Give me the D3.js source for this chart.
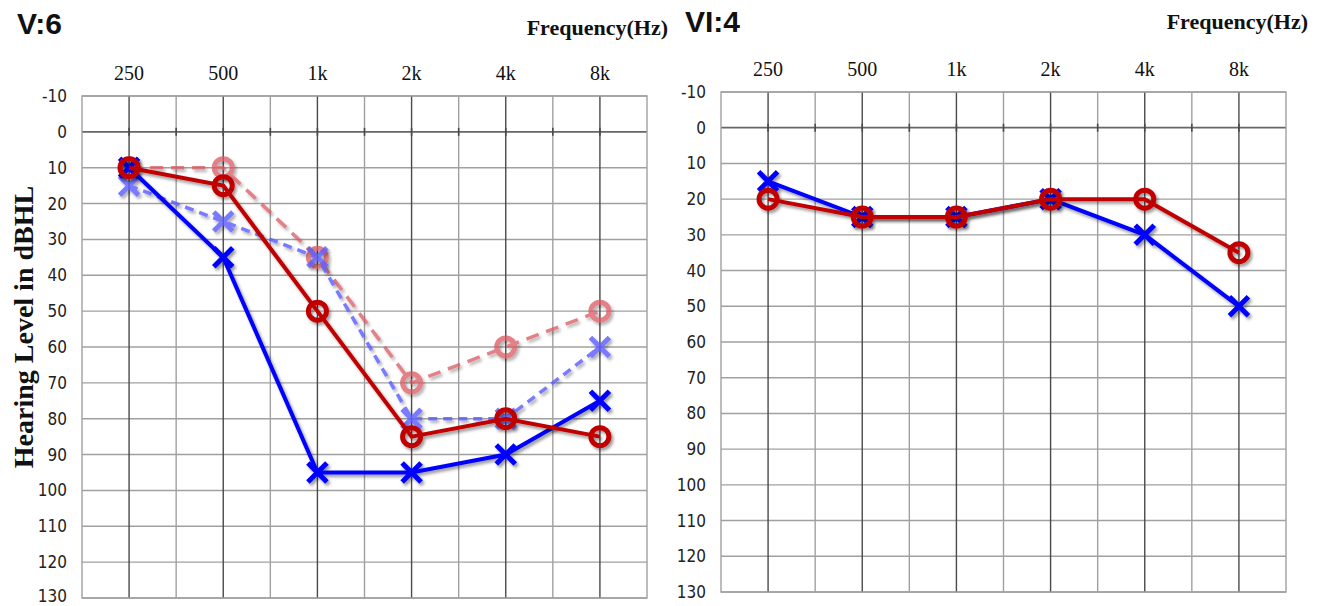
<!DOCTYPE html>
<html>
<head>
<meta charset="utf-8">
<script src="https://cdn.jsdelivr.net/npm/d3@7"></script>
<style>
  body { margin: 0; background: #fff; }
  svg { display: block; }
</style>
</head>
<body>
<div id="chart"></div>
<script>
// frequencies and tick labels
var freqs = [250, 500, 1000, 2000, 4000, 8000];
var freqLabels = ["250", "500", "1k", "2k", "4k", "8k"];
var dbTicks = [-10, 0, 10, 20, 30, 40, 50, 60, 70, 80, 90, 100, 110, 120, 130];

// panel V:6
var v6RedSolid = [10, 15, 50, 85, 80, 85];
var v6BlueSolid = [10, 35, 95, 95, 90, 75];
var v6RedDashed = [10, 10, 35, 70, 60, 50];
var v6BlueDashed = [15, 25, 35, 80, 80, 60];

// panel VI:4
var vi4Blue = [15, 25, 25, 20, 30, 50];
var vi4Red = [20, 25, 25, 20, 20, 35];

var W = 1317, H = 606;
var svg = d3.select("#chart").append("svg")
    .attr("width", W)
    .attr("height", H);

// soft shadow under the lines, like the original
var defs = svg.append("defs");
defs.append("filter")
    .attr("id", "shadow")
    .attr("x", "-20%").attr("y", "-20%")
    .attr("width", "140%").attr("height", "140%")
  .append("feDropShadow")
    .attr("dx", 2).attr("dy", 2.5)
    .attr("stdDeviation", 1.8)
    .attr("flood-color", "#000")
    .attr("flood-opacity", 0.4);

var panels = [
    { title: "V:6", left: 82, right: 647, top: 96, bottom: 598, titleX: 17, titleY: 34,
      freqX: 668, freqY: 35, tickY: 80,
      series: [
        { values: v6RedDashed, color: "#d9595e", marker: "o", dash: "13,8", width: 3.5, opacity: 0.75 },
        { values: v6BlueDashed, color: "#5a5aff", marker: "x", dash: "9,6", width: 3.5, opacity: 0.8 },
        { values: v6BlueSolid, color: "#0000ff", marker: "x", dash: null, width: 4, opacity: 1 },
        { values: v6RedSolid, color: "#c00000", marker: "o", dash: null, width: 4, opacity: 1 }
      ] },
    { title: "VI:4", left: 721, right: 1286, top: 92, bottom: 592, titleX: 685, titleY: 32,
      freqX: 1308, freqY: 29, tickY: 76,
      series: [
        { values: vi4Blue, color: "#0000ff", marker: "x", dash: null, width: 4, opacity: 1 },
        { values: vi4Red, color: "#c00000", marker: "o", dash: null, width: 4, opacity: 1 }
      ] }
];

panels.forEach(function(p) {
    var g = svg.append("g");

    // log frequency scale, half an octave of padding on each side
    var x = d3.scaleLog()
        .domain([250 / Math.SQRT2, 8000 * Math.SQRT2])
        .range([p.left, p.right]);
    var y = d3.scaleLinear()
        .domain([-10, 130])
        .range([p.top, p.bottom]);

    // half-octave grid lines (lighter)
    var halfOct = freqs.map(function(f) { return f * Math.SQRT2; }).slice(0, 5);
    g.selectAll(".half")
        .data(halfOct)
        .enter().append("line")
        .attr("x1", function(d) { return x(d); })
        .attr("x2", function(d) { return x(d); })
        .attr("y1", p.top)
        .attr("y2", p.bottom)
        .style("stroke", "#a0a0a0")
        .style("stroke-width", 1.4);

    // horizontal grid
    g.selectAll(".hgrid")
        .data(dbTicks)
        .enter().append("line")
        .attr("x1", p.left)
        .attr("x2", p.right)
        .attr("y1", function(d) { return y(d); })
        .attr("y2", function(d) { return y(d); })
        .style("stroke", function(d) { return d === 0 ? "#666" : "#a0a0a0"; })
        .style("stroke-width", function(d) { return d === 0 ? 1.8 : 1.4; });

    // frequency grid lines (darker)
    g.selectAll(".major")
        .data(freqs)
        .enter().append("line")
        .attr("x1", function(d) { return x(d); })
        .attr("x2", function(d) { return x(d); })
        .attr("y1", p.top)
        .attr("y2", p.bottom)
        .style("stroke", "#4a4a4a")
        .style("stroke-width", 1.4);

    // little ticks on the 0 dB line
    var zeroTicks = freqs.concat(halfOct);
    g.selectAll(".zt")
        .data(zeroTicks)
        .enter().append("line")
        .attr("x1", function(d) { return x(d); })
        .attr("x2", function(d) { return x(d); })
        .attr("y1", y(0) - 4)
        .attr("y2", y(0) + 4)
        .style("stroke", "#4a4a4a")
        .style("stroke-width", 1.6);

    // frame
    g.append("rect")
        .attr("x", p.left)
        .attr("y", p.top)
        .attr("width", p.right - p.left)
        .attr("height", p.bottom - p.top)
        .style("fill", "none")
        .style("stroke", "#a0a0a0")
        .style("stroke-width", 1.4);

    // top frequency labels
    g.selectAll(".flab")
        .data(freqs)
        .enter().append("text")
        .attr("x", function(d) { return x(d); })
        .attr("y", p.tickY)
        .attr("text-anchor", "middle")
        .style("font-family", "'Liberation Serif', 'Times New Roman', serif")
        .style("font-size", "20px")
        .style("fill", "#111")
        .text(function(d, i) { return freqLabels[i]; });

    // dB labels (the last one sits at the page edge, nudge it up a bit)
    g.selectAll(".dlab")
        .data(dbTicks)
        .enter().append("text")
        .attr("x", p.left - 15)
        .attr("y", function(d) { return Math.min(y(d), H - 10); })
        .attr("dy", "0.35em")
        .attr("text-anchor", "end")
        .style("font-family", "'Liberation Sans Narrow', 'DejaVu Sans Condensed', sans-serif")
        .style("font-size", "17px")
        .style("fill", "#222")
        .text(function(d) { return d; });

    g.append("text")
        .attr("x", p.titleX)
        .attr("y", p.titleY)
        .style("font-family", "'Liberation Sans Narrow', 'Liberation Sans', sans-serif")
        .style("font-weight", "bold")
        .style("font-size", "30px")
        .style("fill", "#111")
        .text(p.title);

    g.append("text")
        .attr("x", p.freqX)
        .attr("y", p.freqY)
        .attr("text-anchor", "end")
        .style("font-family", "'Liberation Serif', 'Times New Roman', serif")
        .style("font-weight", "bold")
        .style("font-size", "22px")
        .style("fill", "#111")
        .text("Frequency(Hz)");

    // series
    var line = d3.line()
        .x(function(d, i) { return x(freqs[i]); })
        .y(function(d) { return y(d); });

    p.series.forEach(function(s) {
        var sg = g.append("g")
            .attr("filter", "url(#shadow)")
            .style("opacity", s.opacity);

        sg.append("path")
            .datum(s.values)
            .attr("d", line)
            .style("fill", "none")
            .style("stroke", s.color)
            .style("stroke-width", s.width)
            .style("stroke-dasharray", s.dash);

        if (s.marker === "o") {
            sg.selectAll("circle")
                .data(s.values)
                .enter().append("circle")
                .attr("cx", function(d, i) { return x(freqs[i]); })
                .attr("cy", function(d) { return y(d); })
                .attr("r", 9)
                .style("fill", "none")
                .style("stroke", s.color)
                .style("stroke-width", 5);
        } else {
            var k = 9.5;
            sg.selectAll("path.mk")
                .data(s.values)
                .enter().append("path")
                .attr("class", "mk")
                .attr("d", function(d, i) {
                    var cx = x(freqs[i]), cy = y(d);
                    return "M" + (cx - k) + "," + (cy - k) + "L" + (cx + k) + "," + (cy + k) +
                           "M" + (cx - k) + "," + (cy + k) + "L" + (cx + k) + "," + (cy - k);
                })
                .style("fill", "none")
                .style("stroke", s.color)
                .style("stroke-width", 5);
        }
    });
});

// y axis title on the left panel
svg.append("text")
    .attr("transform", "translate(33,327) rotate(-90)")
    .attr("text-anchor", "middle")
    .style("font-family", "'Liberation Serif', 'Times New Roman', serif")
    .style("font-weight", "bold")
    .style("font-size", "28px")
    .style("fill", "#111")
    .text("Hearing Level in dBHL");
</script>
</body>
</html>
